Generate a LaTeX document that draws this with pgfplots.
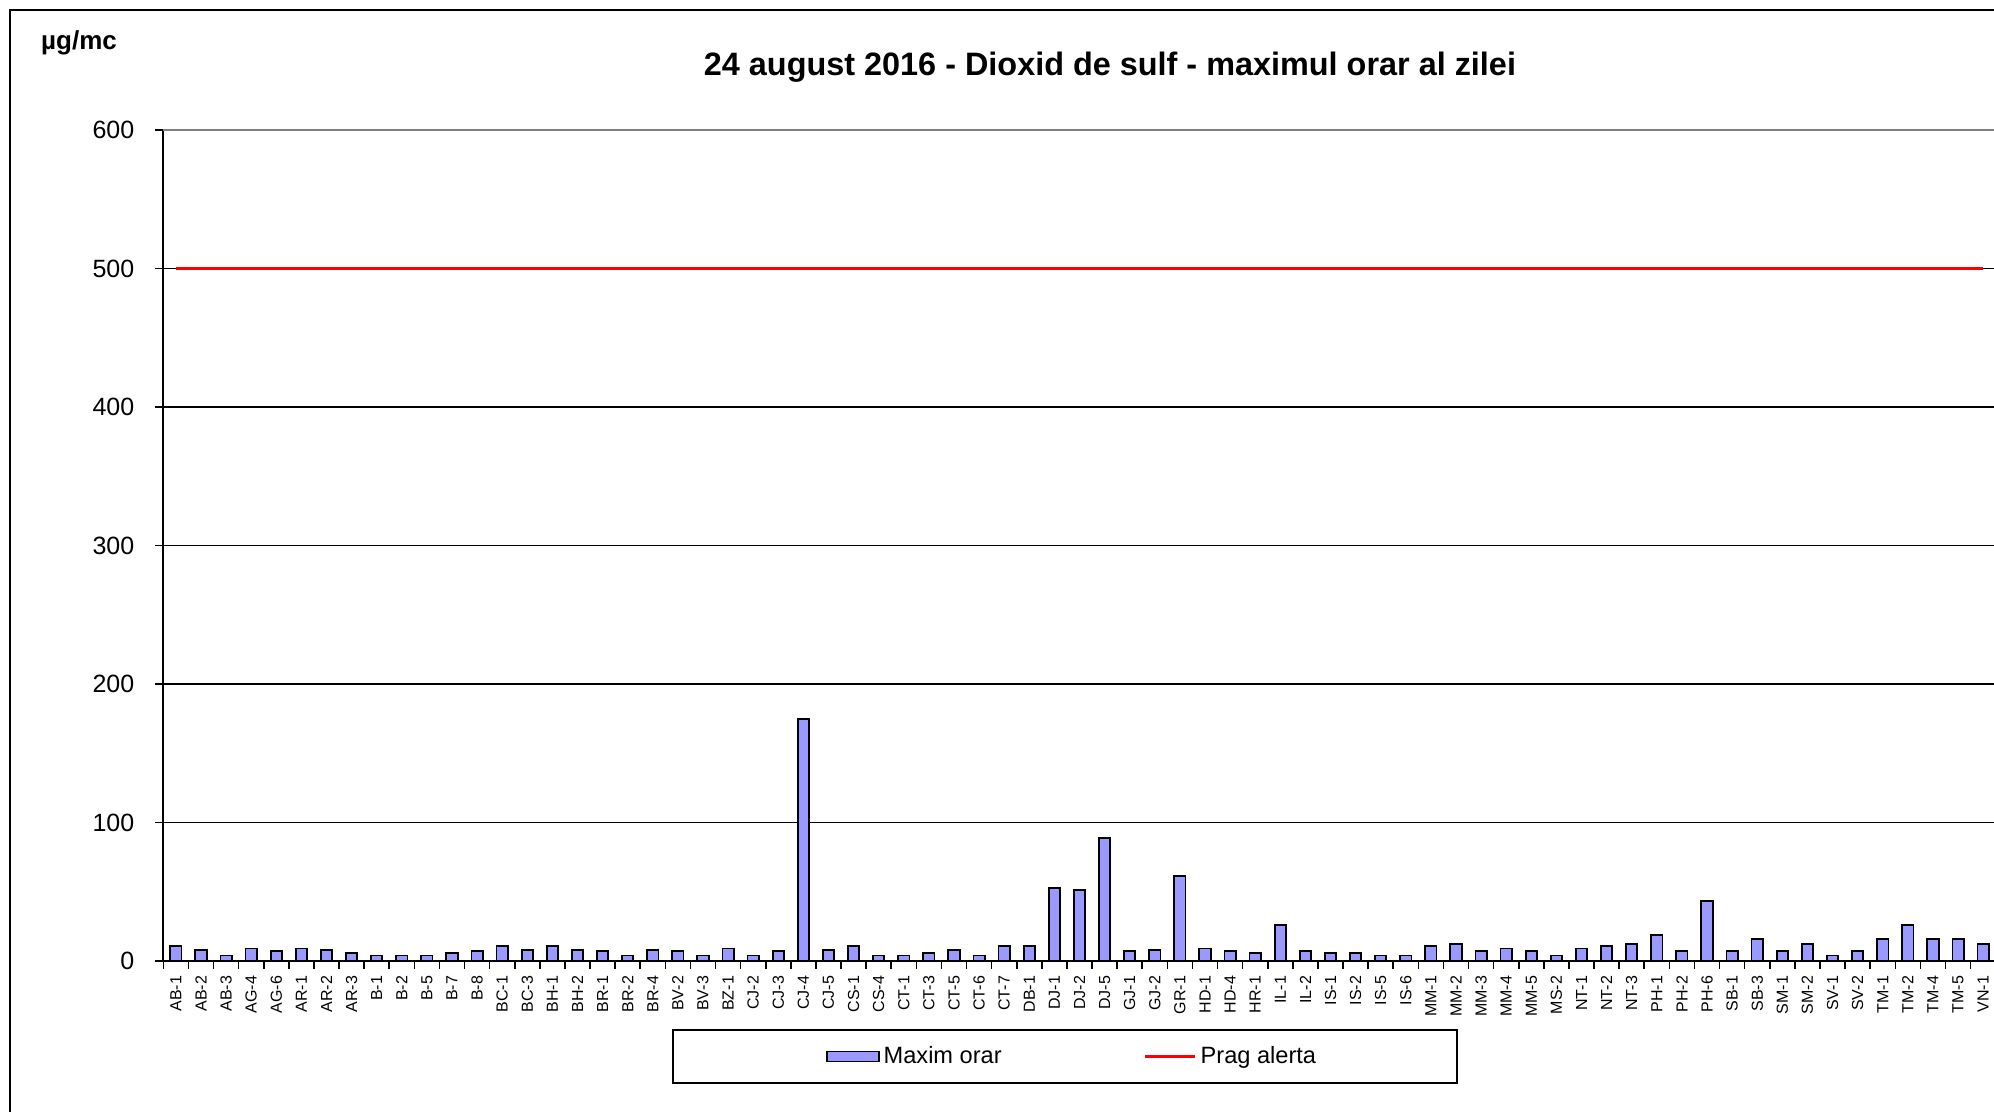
\documentclass[border=0pt]{standalone}
\usepackage{fontspec}
\setmainfont{Liberation Sans}
\usepackage{pgfplots}
\pgfplotsset{compat=1.18}
\definecolor{barblue}{HTML}{9999FF}
\begin{document}
\begin{tikzpicture}
\useasboundingbox (0pt,0pt) rectangle (997pt,556pt);
\draw[line width=1pt] (4.75pt,-5pt) -- (4.75pt,551pt) -- (1005pt,551pt);
\node[font=\fontsize{16.2}{18}\selectfont\bfseries] at (555pt,522.5pt) {24 august 2016 - Dioxid de sulf - maximul orar al zilei};
\node[font=\fontsize{13}{15}\selectfont\bfseries] at (39.5pt,534.5pt) {µg/mc};
\draw[line width=0.8pt] (336.5pt,14.5pt) rectangle (728.5pt,41pt);
\begin{axis}[
  at={(81.65pt,75.5pt)}, anchor=south west,
  scale only axis, width=916.2pt, height=415.5pt,
  xmin=0.5, xmax=73.5, ymin=0, ymax=600,
  axis x line*=bottom, axis y line*=left,
  axis line style={line width=1pt, black},
  tick align=outside, major tick length=4pt,
  tick style={black, line width=0.8pt},
  /pgf/number format/assume math mode=true,
  ytick={0,100,...,500},
  extra y ticks={600}, extra y tick style={grid style={gray, line width=0.8pt}},
  ymajorgrids, grid style={black, line width=0.6pt},
  yticklabel style={font=\fontsize{12.5}{14}\selectfont, xshift=-7pt},
  xtick={0.5,1.5,...,73.5}, xticklabels={},
  extra x ticks={1,...,73},
  extra x tick style={major tick length=0pt},
  extra x tick labels={AB-1,AB-2,AB-3,AG-4,AG-6,AR-1,AR-2,AR-3,B-1,B-2,B-5,B-7,B-8,BC-1,BC-3,BH-1,BH-2,BR-1,BR-2,BR-4,BV-2,BV-3,BZ-1,CJ-2,CJ-3,CJ-4,CJ-5,CS-1,CS-4,CT-1,CT-3,CT-5,CT-6,CT-7,DB-1,DJ-1,DJ-2,DJ-5,GJ-1,GJ-2,GR-1,HD-1,HD-4,HR-1,IL-1,IL-2,IS-1,IS-2,IS-5,IS-6,MM-1,MM-2,MM-3,MM-4,MM-5,MS-2,NT-1,NT-2,NT-3,PH-1,PH-2,PH-6,SB-1,SB-3,SM-1,SM-2,SV-1,SV-2,TM-1,TM-2,TM-4,TM-5,VN-1},
  xticklabel style={font=\fontsize{8}{9}\selectfont, rotate=90, anchor=east, xshift=-4pt},
  legend columns=2,
  legend style={draw=none, fill=none, at={(0.4965,-0.1149)}, anchor=center,
    font=\fontsize{11.8}{13}\selectfont,
    /tikz/every even column/.append style={column sep=69pt}},
]
\addplot[ybar, bar width=5.65pt, fill=barblue, draw=black, line width=0.9pt,
  legend image code/.code={\draw[fill=barblue, draw=black, line width=0.8pt] (0pt,-2.5pt) rectangle (26pt,2.5pt);}]
  coordinates {
(1,11) (2,8) (3,4) (4,9) (5,7) (6,9) (7,8) (8,5.5) (9,4) (10,4)
(11,4) (12,5.5) (13,7) (14,11) (15,8) (16,11) (17,8) (18,7) (19,4) (20,8)
(21,7) (22,4) (23,9) (24,4) (25,7) (26,175) (27,8) (28,11) (29,4) (30,4)
(31,5.5) (32,8) (33,4) (34,11) (35,11) (36,52.5) (37,51) (38,89) (39,7) (40,8)
(41,61.5) (42,9) (43,7) (44,5.5) (45,26) (46,7) (47,5.5) (48,5.5) (49,4) (50,4)
(51,11) (52,12) (53,7) (54,9) (55,7) (56,4) (57,9) (58,11) (59,12) (60,19)
(61,7) (62,43.5) (63,7) (64,16) (65,7) (66,12) (67,4) (68,7) (69,16) (70,26)
(71,16) (72,16) (73,12)
};
\addlegendentry{Maxim orar}
\addplot[red, line width=1.5pt,
  legend image code/.code={\draw[red, line width=1.5pt] (0pt,0pt) -- (25pt,0pt);}]
  coordinates {(1,500) (73,500)};
\addlegendentry{Prag alerta}
\end{axis}
\end{tikzpicture}
\end{document}
